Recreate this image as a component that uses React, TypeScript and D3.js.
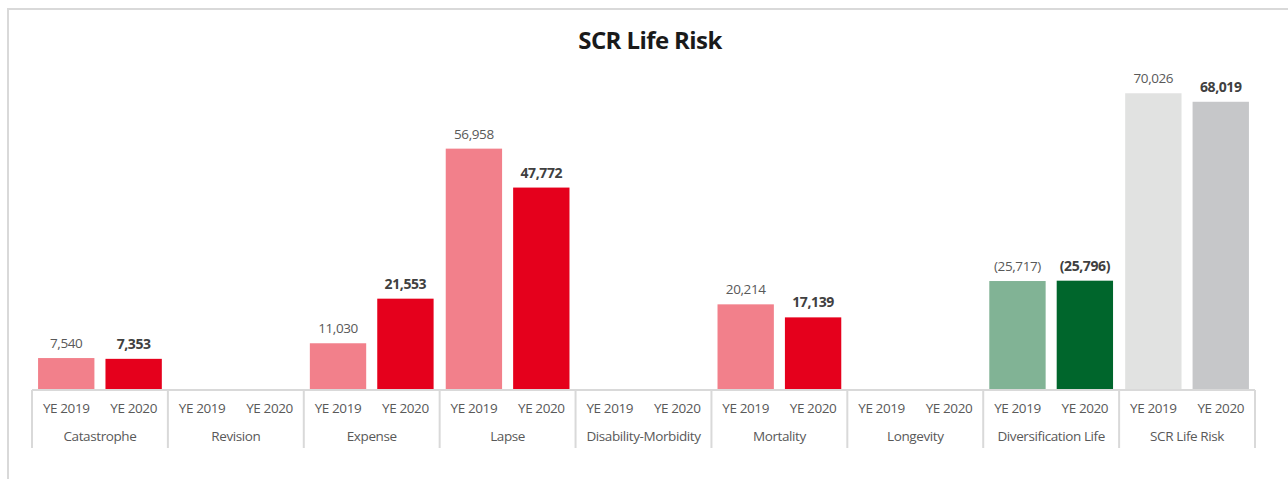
import { useEffect, useRef } from 'react'
import * as d3 from 'd3'

const categories = ['Catastrophe', 'Revision', 'Expense', 'Lapse', 'Disability-Morbidity', 'Mortality', 'Longevity', 'Diversification Life', 'SCR Life Risk']
const periods = ['YE 2019', 'YE 2020']
const ye2019 = [7540, null, 11030, 56958, null, 20214, null, -25717, 70026]
const ye2020 = [7353, null, 21553, 47772, null, 17139, null, -25796, 68019]

const width = 1288
const height = 479
const margin = { top: 51, right: 33, bottom: 89, left: 32 }

const palette: Record<string, [string, string]> = {
  default: ['#f2808b', '#e5001c'],
  'Diversification Life': ['#81b395', '#00662c'],
  'SCR Life Risk': ['#e1e2e1', '#c6c7c9']
}

const fmt = (v: number) => {
  const s = d3.format(',')(Math.abs(v))
  return v < 0 ? `(${s})` : s
}

export default function App() {
  const svgRef = useRef<SVGSVGElement>(null)

  useEffect(() => {
    if (!svgRef.current) return
    const svg = d3.select(svgRef.current)
    svg.selectAll('*').remove()

    const innerHeight = height - margin.top - margin.bottom
    const baseline = margin.top + innerHeight

    // outer frame
    svg.append('rect')
      .attr('x', 8).attr('y', 9)
      .attr('width', width + 20).attr('height', height + 20)
      .attr('fill', 'none')
      .attr('stroke', '#d9d9d9')
      .attr('stroke-width', 2)

    svg.append('text')
      .attr('x', 650).attr('y', 49)
      .attr('text-anchor', 'middle')
      .attr('font-family', 'Open Sans, sans-serif')
      .attr('font-weight', 700)
      .attr('font-size', 24)
      .attr('letter-spacing', -0.6)
      .attr('fill', '#1a1a1a')
      .text('SCR Life Risk')

    const x0 = d3.scaleBand<string>()
      .domain(categories)
      .range([margin.left, width - margin.right])

    const x1 = d3.scaleBand<string>()
      .domain(periods)
      .range([0, x0.bandwidth()])
      .paddingInner(0.164)
      .paddingOuter(0.09)

    const y = d3.scaleLinear()
      .domain([0, 80000])
      .range([baseline, margin.top])

    const rows = categories.flatMap((c, i) => [
      { cat: c, period: periods[0], value: ye2019[i], idx: 0 },
      { cat: c, period: periods[1], value: ye2020[i], idx: 1 }
    ])

    const g = svg.append('g')

    g.selectAll('rect.bar')
      .data(rows.filter(d => d.value !== null))
      .enter().append('rect')
      .attr('class', 'bar')
      .attr('x', d => (x0(d.cat) ?? 0) + (x1(d.period) ?? 0))
      .attr('width', x1.bandwidth())
      .attr('y', d => y(Math.abs(d.value as number)))
      .attr('height', d => baseline - y(Math.abs(d.value as number)))
      .attr('fill', d => (palette[d.cat] || palette.default)[d.idx])

    g.selectAll('text.val')
      .data(rows.filter(d => d.value !== null))
      .enter().append('text')
      .attr('class', 'val')
      .attr('x', d => (x0(d.cat) ?? 0) + (x1(d.period) ?? 0) + x1.bandwidth() / 2)
      .attr('y', d => y(Math.abs(d.value as number)) - 10)
      .attr('text-anchor', 'middle')
      .attr('font-family', 'Open Sans, sans-serif')
      .attr('font-size', d => d.idx === 1 ? 14 : 13.5)
      .attr('font-weight', d => d.idx === 1 ? 700 : 400)
      .attr('letter-spacing', -0.4)
      .attr('fill', d => d.idx === 1 ? '#404040' : '#595959')
      .text(d => fmt(d.value as number))

    // axis
    const axis = svg.append('g')
    axis.append('line')
      .attr('x1', margin.left).attr('x2', width - margin.right)
      .attr('y1', baseline).attr('y2', baseline)
      .attr('stroke', '#d9d9d9').attr('stroke-width', 2)

    const edges = [...categories.map(c => x0(c) as number), width - margin.right]
    axis.selectAll('line.tick')
      .data(edges)
      .enter().append('line')
      .attr('class', 'tick')
      .attr('x1', d => d).attr('x2', d => d)
      .attr('y1', baseline).attr('y2', baseline + 58)
      .attr('stroke', '#d9d9d9').attr('stroke-width', 2)

    axis.selectAll('text.sub')
      .data(rows)
      .enter().append('text')
      .attr('class', 'sub')
      .attr('x', d => (x0(d.cat) ?? 0) + (x1(d.period) ?? 0) + x1.bandwidth() / 2)
      .attr('y', baseline + 23)
      .attr('text-anchor', 'middle')
      .attr('font-family', 'Open Sans, sans-serif')
      .attr('font-size', 13.5)
      .attr('letter-spacing', -0.4)
      .attr('fill', '#595959')
      .text(d => d.period)

    axis.selectAll('text.cat')
      .data(categories)
      .enter().append('text')
      .attr('class', 'cat')
      .attr('x', d => (x0(d) ?? 0) + x0.bandwidth() / 2)
      .attr('y', baseline + 51)
      .attr('text-anchor', 'middle')
      .attr('font-family', 'Open Sans, sans-serif')
      .attr('font-size', 13.5)
      .attr('letter-spacing', -0.4)
      .attr('fill', '#595959')
      .text(d => d)
  }, [])

  return (
    <div style={{ position: 'absolute', left: 0, top: 0, background: '#fff' }}>
      <svg ref={svgRef} width={width} height={height} style={{ display: 'block' }} />
    </div>
  )
}
